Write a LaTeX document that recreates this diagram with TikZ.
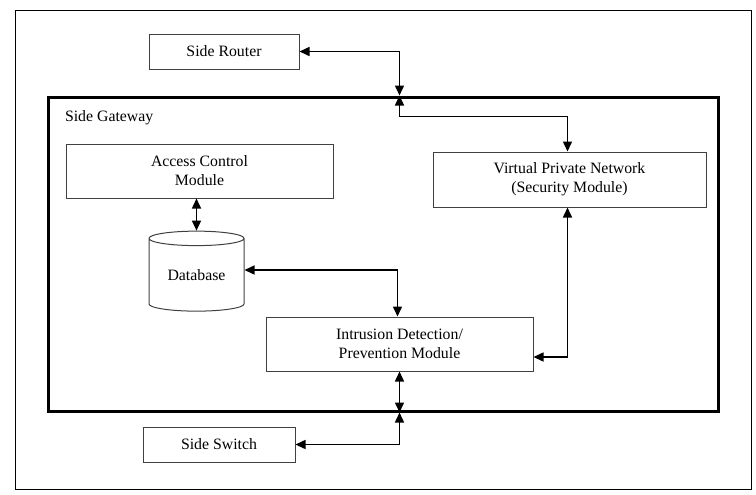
\documentclass[tikz,border=0pt]{standalone}
\usepackage{fontspec}
\setmainfont{Liberation Serif}
\usepackage{tikz}
\usetikzlibrary{shapes.geometric, arrows.meta}

\begin{document}
\begin{tikzpicture}[x=0.5pt, y=-0.5pt,
  font=\fontsize{7.9}{9.5}\selectfont,
  box/.style={draw=black!75, line width=0.5pt, align=center, inner sep=0pt},
  link/.style={line width=0.75pt, {Triangle[length=5pt,width=4.5pt]}-{Triangle[length=5pt,width=4.5pt]}}]

\useasboundingbox (0,0) rectangle (756,494);
\draw[line width=0.5pt] (15,10) rectangle (751,489);

% Gateway
\node[draw, line width=1.5pt, minimum width=335pt, minimum height=157pt, inner sep=0pt] (gateway) at (383,254) {};
\node[anchor=west] (gwlabel) at (58,118) {Side Gateway};

% Outside
\node[box, minimum width=75pt, minimum height=17.5pt] (router) at (224,51.5) {Side Router};
\node[box, minimum width=76pt, minimum height=17.5pt] (switch) at (219,444.5) {Side Switch};

% Modules
\node[box, minimum width=133.5pt, minimum height=27pt] (acm) at (199.5,171) {Access Control\\Module};
\node[box, minimum width=136.5pt, minimum height=27.5pt] (vpn) at (569.5,179.5) {Virtual Private Network\\(Security Module)};
\node[box, minimum width=133.5pt, minimum height=27pt] (ids) at (399.5,344) {Intrusion Detection/\\Prevention Module};
\node[box, cylinder, shape border rotate=90, aspect=0.25,
  minimum width=47.5pt, minimum height=40pt] (db) at (196.5,275) {\raisebox{-3pt}{Database}};

\coordinate (gwtop) at (ids.north |- gateway.north);
\coordinate (gwbot) at (ids.south |- gateway.south);

% Links
\draw[link] (router.east) -| (gwtop);
\draw[link] (gwtop) -- ++(0,21) -| ([xshift=-1pt]vpn.north);
\draw[link] ([xshift=-1pt]vpn.south) |- ([yshift=-6.5pt]ids.east);
\draw[link] ([xshift=-1pt]ids.north) |- ([yshift=2.5pt]db.east);
\draw[link] (acm.south -| db.north) -- (db.north);
\draw[link] (ids.south) -- (gwbot);
\draw[link] (gwbot) |- (switch.east);

\end{tikzpicture}
\end{document}
